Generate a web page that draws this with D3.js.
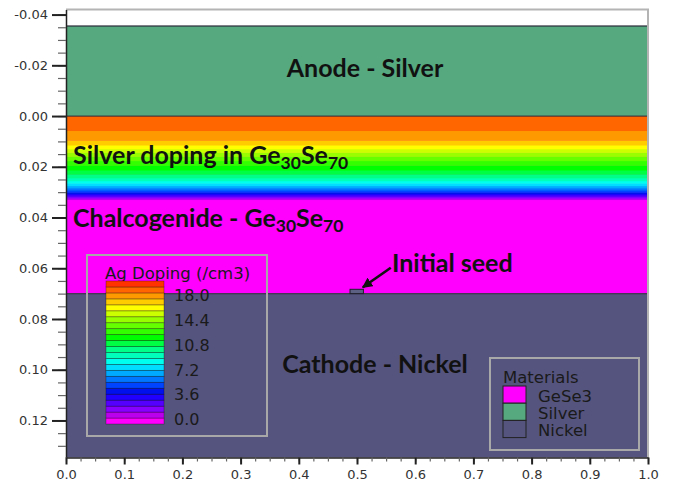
<!DOCTYPE html>
<html>
<head>
<meta charset="utf-8">
<script src="https://cdn.jsdelivr.net/npm/d3@7"></script>
<style>
  html, body { margin: 0; padding: 0; background: #fff; }
  svg { display: block; }
</style>
</head>
<body>
<svg id="chart" width="678" height="484"></svg>
<script>
// Material layers (depth along y, same units as the axis)
const materialNames = ["Silver", "GeSe3", "Nickel"];
const layerTop      = [-0.0355, 0.0, 0.07];
const layerBottom   = [0.0, 0.07, 0.1346];

// Ag doping depth profile inside the chalcogenide
const profileDepth = [0, 0.005, 0.008, 0.010, 0.012, 0.014, 0.016, 0.018, 0.020, 0.022, 0.024, 0.026, 0.028, 0.030, 0.031, 0.032, 0.033];
const profileDoping = [18.7, 18.4, 17.85, 17.27, 16.24, 15.0, 13.9, 12.86, 11.97, 11.0, 9.9, 8.4, 6.5, 4.44, 3.0, 1.5, 0.0];

// Initial seed sitting on the nickel surface
const seedX = [0.488, 0.511];
const seedDepth = [0.0683, 0.07];

// Tick values
const xTickValues = [0, 0.1, 0.2, 0.3, 0.4, 0.5, 0.6, 0.7, 0.8, 0.9, 1.0];
const yTickValues = [-0.04, -0.02, 0, 0.02, 0.04, 0.06, 0.08, 0.10, 0.12];
const legendLabels = [0.0, 3.6, 7.2, 10.8, 14.4, 18.0];

// Colour legend range and banding
const dopingMin = -0.75, dopingMax = 20.0, bandCount = 24;
const bandColors = ["#ff00ff", "#bb00ee", "#8800ff", "#5500ff", "#2200ff", "#0011ee", "#0044ff", "#0077ff",
                    "#00aaff", "#00ddff", "#00ffee", "#00ffbb", "#00ff88", "#00ff44", "#00ff00", "#33ff00",
                    "#66ff00", "#99ff00", "#ccff00", "#ffff00", "#ffcc00", "#ff9900", "#ff6600", "#ff3300"];
const materialColors = { Silver: "#56a87f", GeSe3: "#ff00ff", Nickel: "#55547e" };

const svg = d3.select("#chart");
const x = d3.scaleLinear().domain([0, 1]).range([66, 648]);
const y = d3.scaleLinear().domain([-0.042, 0.1346]).range([9.5, 457.5]);

const plot = svg.append("g");

// materials
plot.selectAll("rect.mat").data(materialNames).join("rect")
  .attr("class", "mat")
  .attr("x", x(0)).attr("width", x(1) - x(0))
  .attr("y", (d, i) => y(layerTop[i]))
  .attr("height", (d, i) => y(layerBottom[i]) - y(layerTop[i]))
  .attr("fill", d => materialColors[d]);

// doping bands (contour of the 1-D profile)
const depthAt = d3.scaleLinear().domain(profileDoping).range(profileDepth).clamp(true);
const bandW = (dopingMax - dopingMin) / bandCount;
const lastDepth = profileDepth[profileDepth.length - 1];
const bands = d3.range(bandCount).map(i => {
  const lo = dopingMin + i * bandW, hi = lo + bandW;
  return { i, top: depthAt(Math.min(hi, profileDoping[0])), bottom: depthAt(Math.max(lo, 0)), color: bandColors[i] };
}).filter(b => b.bottom > b.top && b.top < lastDepth);
plot.selectAll("rect.band").data(bands).join("rect")
  .attr("class", "band")
  .attr("x", x(0)).attr("width", x(1) - x(0))
  .attr("y", d => y(d.top))
  .attr("height", d => y(d.bottom) - y(d.top) + 0.5)
  .attr("fill", d => d.color);

// material boundaries
plot.selectAll("line.bound").data([layerTop[0], 0, 0.07]).join("line")
  .attr("x1", x(0)).attr("x2", x(1))
  .attr("y1", d => y(d)).attr("y2", d => y(d))
  .attr("stroke", "#2a2a3a").attr("stroke-width", 1.3).attr("stroke-opacity", 0.8);

// seed
plot.append("rect")
  .attr("x", x(seedX[0])).attr("width", x(seedX[1]) - x(seedX[0]))
  .attr("y", y(seedDepth[0])).attr("height", y(seedDepth[1]) - y(seedDepth[0]))
  .attr("fill", "#5c6184").attr("stroke", "#1e1e2a").attr("stroke-width", 1);

// frame: light top/right edges
svg.append("path")
  .attr("d", `M${x(0)},${y(-0.042)}H${x(1)}V${y(0.1346)}`)
  .attr("fill", "none").attr("stroke", "#b4b4b4").attr("stroke-width", 2);

// axes
const yMinor = d3.range(-0.04, 0.1326, 0.005);
const xMinor = d3.range(0, 1.0001, 0.025);
svg.append("g").attr("transform", `translate(${x(0)},0)`)
  .call(d3.axisLeft(y).tickValues(yMinor).tickSize(8).tickFormat("").tickSizeOuter(0))
  .call(g => g.selectAll(".tick line").attr("stroke", "#666").attr("stroke-width", 1.2))
  .call(g => g.select(".domain").attr("stroke", "#222").attr("stroke-width", 1.5));
svg.append("g").attr("transform", `translate(${x(0)},0)`)
  .call(d3.axisLeft(y).tickValues(yTickValues).tickSize(14).tickPadding(4).tickSizeOuter(0)
        .tickFormat(d => d.toFixed(2)))
  .call(g => g.select(".domain").remove())
  .call(g => g.selectAll(".tick line").attr("stroke", "#222").attr("stroke-width", 2))
  .call(g => g.selectAll(".tick text").attr("fill", "#333").attr("font-family", "DejaVu Sans").attr("font-size", 13));
svg.append("g").attr("transform", `translate(0,${y(0.1346)})`)
  .call(d3.axisBottom(x).tickValues(xMinor).tickSize(4).tickFormat("").tickSizeOuter(0))
  .call(g => g.selectAll(".tick line").attr("stroke", "#666").attr("stroke-width", 1.2))
  .call(g => g.select(".domain").attr("stroke", "#222").attr("stroke-width", 1.5));
svg.append("g").attr("transform", `translate(0,${y(0.1346)})`)
  .call(d3.axisBottom(x).tickValues(xTickValues).tickSize(7).tickPadding(5).tickSizeOuter(0)
        .tickFormat(d => d.toFixed(1)))
  .call(g => g.select(".domain").remove())
  .call(g => g.selectAll(".tick line").attr("stroke", "#222").attr("stroke-width", 2))
  .call(g => g.selectAll(".tick text").attr("fill", "#333").attr("font-family", "DejaVu Sans").attr("font-size", 13));

// region labels (subscripts shift the baseline; the next run shifts it back)
const boldFont = "Lato, 'Open Sans', sans-serif";
const mainSize = 25, subSize = 17.5, subShift = 5;
function label(px, py, parts, anchor) {
  const t = svg.append("text").attr("x", px).attr("y", py)
    .attr("font-family", boldFont).attr("font-weight", 700).attr("font-size", mainSize)
    .attr("fill", "#111").attr("text-anchor", anchor || "start");
  let shifted = false;
  parts.forEach(p => {
    const s = t.append("tspan").text(p.t);
    if (p.sub) {
      s.attr("font-size", subSize).attr("dy", subShift);
      shifted = true;
    } else if (shifted) {
      s.attr("dy", -subShift);
      shifted = false;
    }
  });
  return t;
}
label(365, 77, [{ t: "Anode - Silver" }], "middle");
label(73, 164, [{ t: "Silver doping in Ge" }, { t: "30", sub: true }, { t: "Se" }, { t: "70", sub: true }]);
label(73, 227, [{ t: "Chalcogenide - Ge" }, { t: "30", sub: true }, { t: "Se" }, { t: "70", sub: true }]);
label(375, 373, [{ t: "Cathode - Nickel" }], "middle");
label(392, 272, [{ t: "Initial seed" }]);

// arrow to the seed
const defs = svg.append("defs");
defs.append("marker").attr("id", "head").attr("viewBox", "0 0 10 10")
  .attr("refX", 9).attr("refY", 5).attr("markerWidth", 4).attr("markerHeight", 4)
  .attr("orient", "auto").append("path").attr("d", "M0,0L10,5L0,10Z").attr("fill", "#111");
svg.append("line")
  .attr("x1", x(0.558)).attr("y1", y(0.0598))
  .attr("x2", x(0.510)).attr("y2", y(0.0675))
  .attr("stroke", "#111").attr("stroke-width", 2.6).attr("marker-end", "url(#head)");

// doping legend
const leg = svg.append("g");
leg.append("rect").attr("x", 87).attr("y", 255).attr("width", 180).attr("height", 181)
  .attr("fill", "none").attr("stroke", "#a8a8a8").attr("stroke-width", 2);
leg.append("text").attr("x", 105).attr("y", 279).text("Ag Doping (/cm3)")
  .attr("font-family", "DejaVu Sans").attr("font-size", 16.5).attr("fill", "#1a1a1a");
const ly = d3.scaleLinear().domain([dopingMin, dopingMax]).range([424, 281]);
leg.selectAll("rect.sw").data(d3.range(bandCount)).join("rect")
  .attr("class", "sw")
  .attr("x", 106).attr("width", 58)
  .attr("y", i => ly(dopingMin + (i + 1) * bandW))
  .attr("height", ly(dopingMin) - ly(dopingMin + bandW))
  .attr("fill", i => bandColors[i]).attr("stroke", "rgba(0,0,0,0.35)").attr("stroke-width", 0.8);
const ls = d3.scaleLinear().domain([0, 18]).range([419.5, 295.5]);
leg.selectAll("text.lab").data(legendLabels).join("text")
  .attr("class", "lab").attr("x", 174).attr("y", d => ls(d)).attr("dy", "0.36em")
  .attr("font-family", "DejaVu Sans").attr("font-size", 16).attr("fill", "#1a1a1a")
  .text(d => d.toFixed(1));

// materials legend
const ml = svg.append("g");
ml.append("rect").attr("x", 490).attr("y", 358).attr("width", 149).attr("height", 92)
  .attr("fill", "none").attr("stroke", "#a8a8a8").attr("stroke-width", 2);
ml.append("text").attr("x", 503).attr("y", 383).text("Materials")
  .attr("font-family", "DejaVu Sans").attr("font-size", 16.5).attr("fill", "#1a1a1a");
const legendOrder = ["GeSe3", "Silver", "Nickel"];
ml.selectAll("rect.m").data(legendOrder).join("rect")
  .attr("class", "m").attr("x", 503).attr("width", 23)
  .attr("y", (d, i) => 386 + i * 17.2).attr("height", 17.2)
  .attr("fill", d => materialColors[d]).attr("stroke", "#222").attr("stroke-width", 1);
ml.selectAll("text.m").data(legendOrder).join("text")
  .attr("class", "m").attr("x", 538).attr("y", (d, i) => 401.5 + i * 17.2)
  .attr("font-family", "DejaVu Sans").attr("font-size", 16.5).attr("fill", "#1a1a1a")
  .text(d => d);
</script>
</body>
</html>
